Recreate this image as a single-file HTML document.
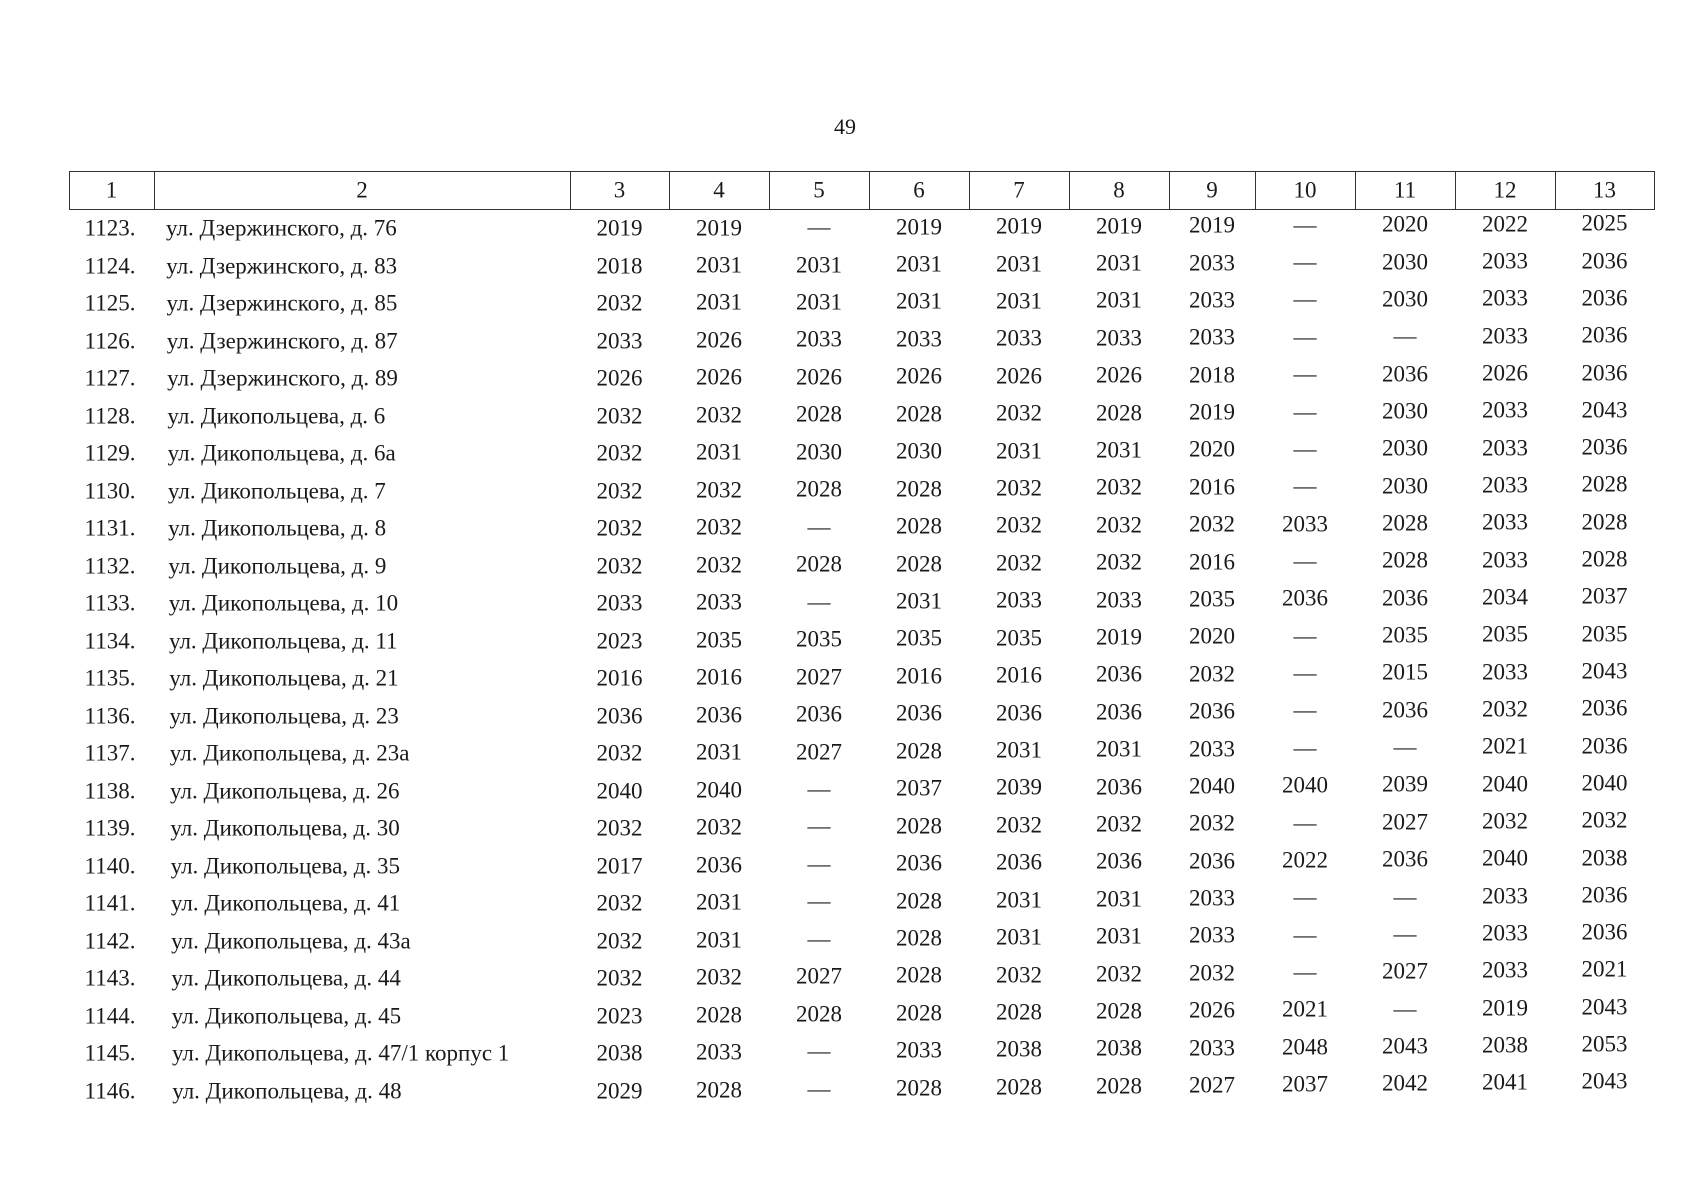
<!DOCTYPE html>
<html><head><meta charset="utf-8"><style>
body{margin:0;background:#fff;}
#p{position:relative;width:1701px;height:1200px;overflow:hidden;font-family:"Liberation Serif",serif;color:#1a1a1a;font-size:23px;}
.c{position:absolute;transform:translate(-50%,-50%);white-space:nowrap;line-height:1;}
.l{position:absolute;transform:translateY(-50%);white-space:nowrap;line-height:1;}
.h{position:absolute;top:171px;height:39px;border:1.5px solid #333;box-sizing:border-box;}
</style></head><body><div id="p">
<div class="c" style="left:845px;top:127px;font-size:22px">49</div>
<div id="hd"></div>
<div id="rows"></div>
</div>
<script>
var b=[69,154,570,669,769,869,969,1069,1169,1255,1355,1455,1555,1654];
var hd='';
for(var i=0;i<13;i++){hd+='<div class="h" style="left:'+b[i]+'px;width:'+(b[i+1]-b[i]+1)+'px"></div>';
hd+='<div class="c" style="left:'+((b[i]+b[i+1])/2)+'px;top:190px">'+(i+1)+'</div>';}
document.getElementById('hd').innerHTML=hd;
var D=[
["ул. Дзержинского, д. 76","2019 2019 — 2019 2019 2019 2019 — 2020 2022 2025"],
["ул. Дзержинского, д. 83","2018 2031 2031 2031 2031 2031 2033 — 2030 2033 2036"],
["ул. Дзержинского, д. 85","2032 2031 2031 2031 2031 2031 2033 — 2030 2033 2036"],
["ул. Дзержинского, д. 87","2033 2026 2033 2033 2033 2033 2033 — — 2033 2036"],
["ул. Дзержинского, д. 89","2026 2026 2026 2026 2026 2026 2018 — 2036 2026 2036"],
["ул. Дикопольцева, д. 6","2032 2032 2028 2028 2032 2028 2019 — 2030 2033 2043"],
["ул. Дикопольцева, д. 6а","2032 2031 2030 2030 2031 2031 2020 — 2030 2033 2036"],
["ул. Дикопольцева, д. 7","2032 2032 2028 2028 2032 2032 2016 — 2030 2033 2028"],
["ул. Дикопольцева, д. 8","2032 2032 — 2028 2032 2032 2032 2033 2028 2033 2028"],
["ул. Дикопольцева, д. 9","2032 2032 2028 2028 2032 2032 2016 — 2028 2033 2028"],
["ул. Дикопольцева, д. 10","2033 2033 — 2031 2033 2033 2035 2036 2036 2034 2037"],
["ул. Дикопольцева, д. 11","2023 2035 2035 2035 2035 2019 2020 — 2035 2035 2035"],
["ул. Дикопольцева, д. 21","2016 2016 2027 2016 2016 2036 2032 — 2015 2033 2043"],
["ул. Дикопольцева, д. 23","2036 2036 2036 2036 2036 2036 2036 — 2036 2032 2036"],
["ул. Дикопольцева, д. 23а","2032 2031 2027 2028 2031 2031 2033 — — 2021 2036"],
["ул. Дикопольцева, д. 26","2040 2040 — 2037 2039 2036 2040 2040 2039 2040 2040"],
["ул. Дикопольцева, д. 30","2032 2032 — 2028 2032 2032 2032 — 2027 2032 2032"],
["ул. Дикопольцева, д. 35","2017 2036 — 2036 2036 2036 2036 2022 2036 2040 2038"],
["ул. Дикопольцева, д. 41","2032 2031 — 2028 2031 2031 2033 — — 2033 2036"],
["ул. Дикопольцева, д. 43а","2032 2031 — 2028 2031 2031 2033 — — 2033 2036"],
["ул. Дикопольцева, д. 44","2032 2032 2027 2028 2032 2032 2032 — 2027 2033 2021"],
["ул. Дикопольцева, д. 45","2023 2028 2028 2028 2028 2028 2026 2021 — 2019 2043"],
["ул. Дикопольцева, д. 47/1 корпус 1","2038 2033 — 2033 2038 2038 2033 2048 2043 2038 2053"],
["ул. Дикопольцева, д. 48","2029 2028 — 2028 2028 2028 2027 2037 2042 2041 2043"]];
var h='';
for(var r=0;r<24;r++){
var y0=228+37.5*r;
h+='<div class="c" style="left:110px;top:'+y0+'px">'+(1123+r)+'.</div>';
h+='<div class="l" style="left:'+(166+r*0.27)+'px;top:'+y0+'px">'+D[r][0]+'</div>';
var v=D[r][1].split(' ');
for(var k=0;k<11;k++){var x=(b[k+2]+b[k+3])/2;var y=y0-(x-620)/1040*(5+r*0.2);
h+='<div class="c" style="left:'+x+'px;top:'+y+'px">'+v[k]+'</div>';}
}
document.getElementById('rows').innerHTML=h;
</script>
</body></html>
